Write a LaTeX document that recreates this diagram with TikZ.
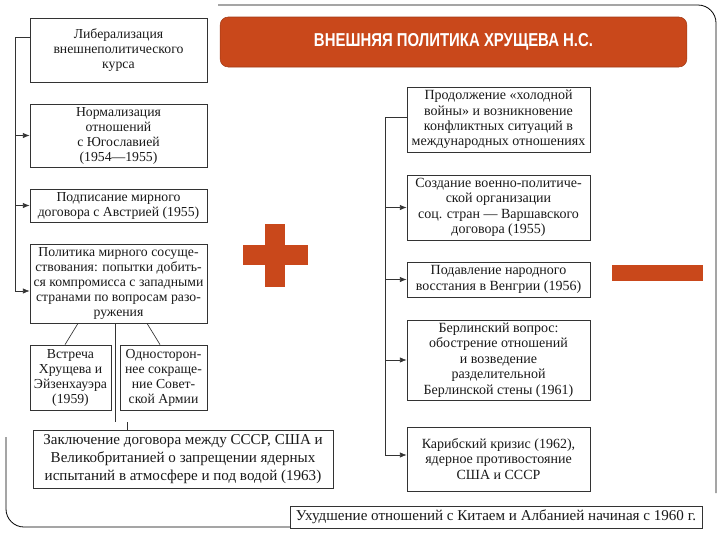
\documentclass[tikz,border=0pt]{standalone}
\usepackage{fontspec}
\setmainfont{Liberation Serif}
\newfontfamily\titlefont{Liberation Sans}
\usetikzlibrary{arrows.meta}
\definecolor{slideorange}{RGB}{201,72,27}

\begin{document}
\begin{tikzpicture}[x=0.75pt,y=-0.75pt,
    box/.style={draw=black!80, line width=0.6pt, align=center, inner sep=1pt,
        text=black!90, font=\fontsize{10.3}{11.25}\selectfont},
    rbox/.style={box, minimum width=137.25pt, font=\fontsize{10.5}{11.6}\selectfont},
    title/.style={fill=slideorange, draw=slideorange!80!black, rounded corners=6pt,
        minimum width=350pt, minimum height=37.5pt, text=white,
        font=\titlefont\fontsize{14}{16}\selectfont\bfseries},
    arr/.style={-{Latex[length=5pt,width=4pt]}, draw=black!80, line width=0.5pt},
    line/.style={draw=black!80, line width=0.5pt}]
    \useasboundingbox (0,0) rectangle (720,540);

    % frame
    \draw[line width=0.6pt, rounded corners=13.5pt] (218,5) -- (716,5) -- (716,493);
    \draw[line width=0.6pt, rounded corners=13.5pt] (6,437) -- (6,527) -- (290,527);

    \node[title] (title) at (453.5,42) {\scalebox{0.8}[1]{ВНЕШНЯЯ ПОЛИТИКА ХРУЩЕВА Н.С.}};

    % left column
    \node[box, minimum width=132.75pt, minimum height=48pt] (lib) at (118.5,50)
        {Либерализация\\внешнеполитического\\курса};
    \node[box, minimum width=132.75pt, minimum height=47.25pt] (yug) at (118.5,135.5)
        {Нормализация\\отношений\\с Югославией\\(1954—1955)};
    \node[box, minimum width=132.75pt, minimum height=24.75pt] (avs) at (118.5,205.5)
        {Подписание мирного\\договора с Австрией (1955)};
    \node[box, minimum width=132.75pt, minimum height=59.25pt] (mir) at (118.5,283.5)
        {Политика мирного сосуще-\\ствования: попытки добить-\\ся компромисса с западными\\странами по вопросам разо-\\ружения};
    \node[box, minimum width=60.75pt, minimum height=48.75pt] (eiz) at (70.5,377.5)
        {Встреча\\Хрущева и\\Эйзенхауэра\\(1959)};
    \node[box, minimum width=65.25pt, minimum height=48.75pt] (arm) at (163.5,377.5)
        {Односторон-\\нее сокраще-\\ние Совет-\\ской Армии};
    \node[box, minimum width=225pt, minimum height=43.5pt,
        font=\fontsize{11.3}{13.5}\selectfont] (dog) at (183,459)
        {Заключение договора между СССР, США и\\Великобританией о запрещении ядерных\\испытаний в атмосфере и под водой (1963)};

    \coordinate (ltop) at (15,37);
    \coordinate (lbot) at (15,291);
    \draw[line] (lib.west |- ltop) -- (ltop) -- (lbot);
    \draw[arr] (ltop |- yug.west) -- (yug.west);
    \draw[arr] (ltop |- avs.west) -- (avs.west);
    \draw[arr] (lbot) -- (lbot -| mir.west);

    \draw[line] ([xshift=-30.4pt]mir.south) -- ([xshift=-4.1pt]eiz.north);
    \draw[line] ([xshift=21.4pt]mir.south) -- ([xshift=-2.6pt]arm.north);
    \coordinate (mid) at (115,422);
    \coordinate (stub) at (127,422);
    \draw[line] (mir.south -| mid) -- (mid);
    \draw[line] (stub) -- (stub |- dog.north);

    % right column
    \node[rbox, minimum height=48.75pt] (hol) at (498.5,119.5)
        {Продолжение «холодной\\войны» и возникновение\\конфликтных ситуаций в\\международных отношениях};
    \node[rbox, minimum height=48.75pt] (var) at (498.5,207.5)
        {Создание военно-политиче-\\ской организации\\соц. стран — Варшавского\\договора (1955)};
    \node[rbox, minimum height=26.25pt] (ven) at (498.5,279.5)
        {Подавление народного\\восстания в Венгрии (1956)};
    \node[rbox, minimum height=60pt] (ber) at (498.5,360)
        {Берлинский вопрос:\\обострение отношений\\и возведение\\разделительной\\Берлинской стены (1961)};
    \node[rbox, minimum height=48pt] (kar) at (498.5,459)
        {Карибский кризис (1962),\\ядерное противостояние\\США и СССР};
    \node[box, minimum width=309pt, minimum height=16.5pt,
        font=\fontsize{11.3}{12}\selectfont] (kit) at (496,517)
        {Ухудшение отношений с Китаем и Албанией начиная с 1960 г.};

    \coordinate (rtop) at (385,117);
    \coordinate (rbot) at (385,455);
    \draw[line] (hol.west |- rtop) -- (rtop) -- (rbot);
    \draw[arr] (rtop |- var.west) -- (var.west);
    \draw[arr] (rtop |- ven.west) -- (ven.west);
    \draw[arr] (rtop |- ber.west) -- (ber.west);
    \draw[arr] (rbot) -- (rbot -| kar.west);

    % plus and minus
    \fill[slideorange] (265,224) rectangle (285,287);
    \fill[slideorange] (243,245) rectangle (308,265);
    \fill[slideorange] (612,265) rectangle (703,281);
\end{tikzpicture}
\end{document}
